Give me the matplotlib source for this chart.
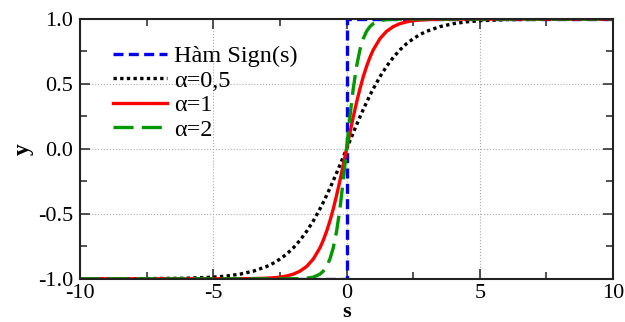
import numpy as np
import matplotlib
matplotlib.use("Agg")
import matplotlib.pyplot as plt
from matplotlib.ticker import MultipleLocator

plt.rcParams['font.family'] = ['Liberation Serif', 'DejaVu Serif']

# sign function
s_sign = [-10, 0, 0, 10]
y_sign = [-1, -1, 1, 1]

# sample points
s = [-10, -8, -6, -5, -4.5, -4, -3.5, -3, -2.75, -2.5, -2.25, -2, -1.75, -1.5,
     -1.25, -1, -0.875, -0.75, -0.625, -0.5, -0.375, -0.25, -0.125, 0,
     0.125, 0.25, 0.375, 0.5, 0.625, 0.75, 0.875, 1, 1.25, 1.5, 1.75, 2,
     2.25, 2.5, 2.75, 3, 3.5, 4, 4.5, 5, 6, 8, 10]

y_a05 = [-1.0, -0.999, -0.995, -0.987, -0.978, -0.964, -0.941, -0.905, -0.880,
         -0.848, -0.810, -0.762, -0.704, -0.635, -0.555, -0.462, -0.412, -0.358,
         -0.303, -0.245, -0.185, -0.124, -0.062, 0.0,
         0.062, 0.124, 0.185, 0.245, 0.303, 0.358, 0.412, 0.462, 0.555, 0.635,
         0.704, 0.762, 0.810, 0.848, 0.880, 0.905, 0.941, 0.964, 0.978, 0.987,
         0.995, 0.999, 1.0]

y_a1 = [-1.0, -1.0, -1.0, -1.0, -1.0, -0.999, -0.998, -0.995, -0.992, -0.987,
        -0.978, -0.964, -0.941, -0.905, -0.848, -0.762, -0.704, -0.635, -0.555,
        -0.462, -0.358, -0.245, -0.124, 0.0,
        0.124, 0.245, 0.358, 0.462, 0.555, 0.635, 0.704, 0.762, 0.848, 0.905,
        0.941, 0.964, 0.978, 0.987, 0.992, 0.995, 0.998, 0.999, 1.0, 1.0, 1.0,
        1.0, 1.0]

y_a2 = [-1.0, -1.0, -1.0, -1.0, -1.0, -1.0, -1.0, -1.0, -1.0, -1.0, -1.0,
        -0.999, -0.998, -0.995, -0.987, -0.964, -0.941, -0.905, -0.848, -0.762,
        -0.635, -0.462, -0.245, 0.0,
        0.245, 0.462, 0.635, 0.762, 0.848, 0.905, 0.941, 0.964, 0.987, 0.995,
        0.998, 0.999, 1.0, 1.0, 1.0, 1.0, 1.0, 1.0, 1.0, 1.0, 1.0, 1.0, 1.0]

x_ticks = [-10, -5, 0, 5, 10]
y_ticks = [-1, -0.5, 0, 0.5, 1]
y_ticklabels = ['-1.0', '-0.5', '0.0', '0.5', '1.0']

fig = plt.figure(figsize=(6.25, 3.22), dpi=100)
ax = fig.add_axes([0.128, 0.134, 0.853, 0.807])

ax.plot(s_sign, y_sign, color='#0000ee', lw=2.4, ls=(0, (3, 1.6)), label='Hàm Sign(s)')
ax.plot(s, y_a05, color='black', lw=2.4, ls=(0, (1, 1)), label='α=0,5')
ax.plot(s, y_a1, color='#ff0000', lw=2.4, label='α=1')
ax.plot(s, y_a2, color='#009900', lw=2.4, ls=(0, (6, 2.5)), label='α=2')

ax.set_xlim(-10, 10)
ax.set_ylim(-1, 1)
ax.set_xticks(x_ticks)
ax.set_xticklabels([str(t) for t in x_ticks])
ax.set_yticks(y_ticks)
ax.set_yticklabels(y_ticklabels)
ax.xaxis.set_minor_locator(MultipleLocator(2.5))
ax.yaxis.set_minor_locator(MultipleLocator(0.25))

ax.tick_params(which='both', direction='in', top=True, right=True, labelsize=16,
               width=1.2, color='#333333')
ax.tick_params(which='major', length=7)
ax.tick_params(axis='x', which='major', pad=4)
ax.tick_params(axis='y', which='major', pad=5)
ax.tick_params(which='minor', length=5)
ax.grid(True, which='major', color='#aaaaaa', ls=':', lw=0.8)
for sp in ax.spines.values():
    sp.set_linewidth(1.5)
    sp.set_color('#222222')

ax.set_xlabel('s', fontsize=16, fontweight='bold', labelpad=-1)
ax.set_ylabel('y', fontsize=17, fontweight='bold', labelpad=3)

ax.legend(loc='upper left', bbox_to_anchor=(0.035, 0.955), frameon=False,
          fontsize=17.5, handlelength=2.2, handletextpad=0.3, labelspacing=0.1,
          borderaxespad=0.2)

fig.savefig('out.png', dpi=100)
